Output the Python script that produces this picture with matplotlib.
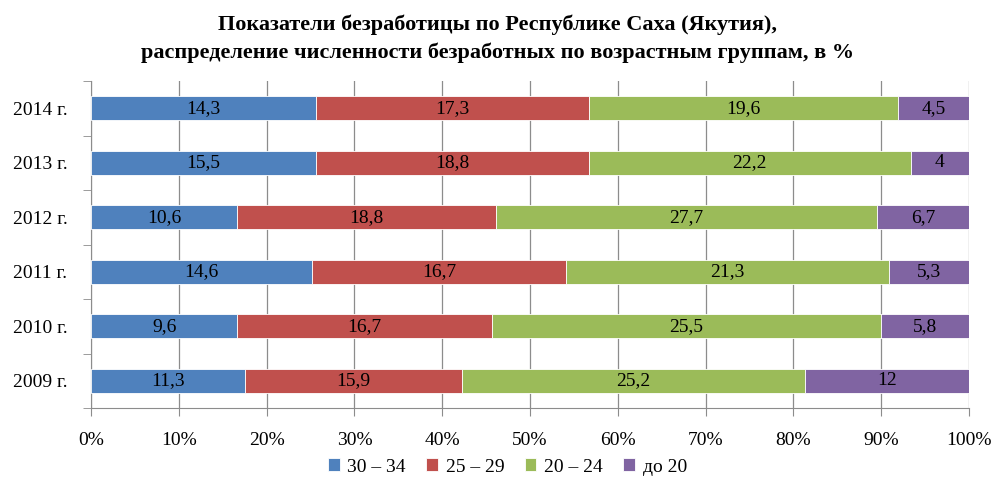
import matplotlib
matplotlib.use("Agg")
import matplotlib.pyplot as plt
import numpy as np

years = ["2009 г.", "2010 г.", "2011 г.", "2012 г.", "2013 г.", "2014 г."]
series_names = ["30 – 34", "25 – 29", "20 – 24", "до 20"]
s_30_34 = [11.3, 9.6, 14.6, 10.6, 15.5, 14.3]
s_25_29 = [15.9, 16.7, 16.7, 18.8, 18.8, 17.3]
s_20_24 = [25.2, 25.5, 21.3, 27.7, 22.2, 19.6]
s_do_20 = [12, 5.8, 5.3, 6.7, 4, 4.5]
colors = ["#4F81BD", "#C0504D", "#9BBB59", "#8064A2"]

plt.rcParams['font.family'] = ['Liberation Serif', 'DejaVu Serif']

data = np.array([s_30_34, s_25_29, s_20_24, s_do_20], dtype=float)
totals = data.sum(axis=0)
shares = data / totals * 100

fig = plt.figure(figsize=(9.95, 4.78), dpi=100)
ax = fig.add_axes([91/995, 1-408/478, (969-91)/995, (408-81)/478])

fs = 14
y = np.arange(len(years))
left = np.zeros(len(years))
for i, name in enumerate(series_names):
    ax.barh(y, shares[i], left=left, height=0.44, color=colors[i],
            edgecolor="white", linewidth=0.6, label=name, zorder=3)
    for j in range(len(years)):
        v = data[i, j]
        txt = f"{v:g}".replace(".", ",")
        ax.text(left[j] + shares[i, j] / 2, y[j], txt, ha="center", va="center",
                fontsize=fs, color="black", zorder=4)
    left += shares[i]

ax.set_xlim(0, 100)
ax.set_ylim(-0.5, len(years) - 0.5)
ax.set_xticks(np.arange(0, 101, 10))
ax.set_xticklabels([f"{v}%" for v in range(0, 101, 10)], fontsize=fs)
ax.set_yticks(y)
ax.set_yticklabels(years, fontsize=fs)
ax.set_yticks(np.arange(-0.5, len(years), 1), minor=True)
ax.tick_params(axis="y", which="major", length=0, pad=17)
ax.tick_params(axis="y", which="minor", length=6, color="#8C8C8C")
ax.tick_params(axis="x", length=6, color="#8C8C8C", pad=11)
ax.grid(axis="x", color="#8C8C8C", linewidth=0.9, zorder=0)
for s in ["top", "right"]:
    ax.spines[s].set_visible(False)
for s in ["left", "bottom"]:
    ax.spines[s].set_color("#8C8C8C")

fig.text(0.5, 1-25/478, "Показатели безработицы по Республике Саха (Якутия),",
         ha="center", va="center", fontsize=16, fontweight="bold")
fig.text(0.5, 1-53/478, "распределение численности безработных по возрастным группам, в %",
         ha="center", va="center", fontsize=16, fontweight="bold")

ax.legend(loc="center", bbox_to_anchor=(0.51, 1-467/478), bbox_transform=fig.transFigure,
          ncol=4, frameon=False, fontsize=fs, handlelength=0.6, handleheight=0.6,
          handletextpad=0.4, columnspacing=1.05)

fig.savefig("out.png", dpi=100)
